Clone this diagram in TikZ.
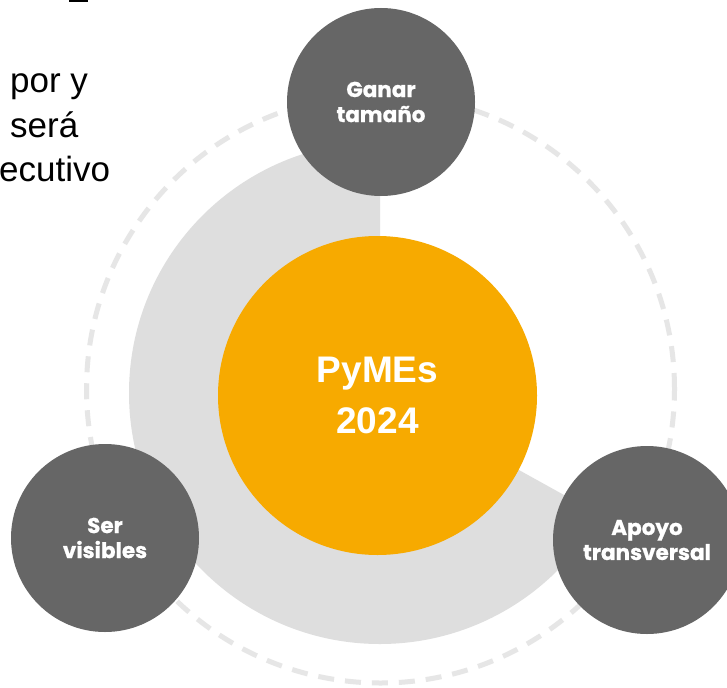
\documentclass[tikz,border=0pt]{standalone}
\usepackage{fontspec}
\setmainfont{Liberation Sans}
\newfontfamily\popfont{Poppins}[BoldFeatures={FakeBold=0.8}]
\definecolor{pyorange}{HTML}{F7AA00}
\definecolor{darkgrey}{HTML}{666666}
\definecolor{sectorgrey}{HTML}{DEDEDE}
\definecolor{dashgrey}{HTML}{E6E6E6}
\tikzset{
  goalcircle/.style={circle, fill=darkgrey, minimum size=188pt, inner sep=0pt, text=white, align=center,
    font=\popfont\bfseries\fontsize{21.5}{25}\selectfont},
  corecircle/.style={circle, fill=pyorange, minimum size=319pt, inner sep=0pt, text=white, align=center,
    font=\bfseries\fontsize{37}{51}\selectfont},
  sidetext/.style={anchor=base west, inner sep=0pt, text=black, font=\fontsize{35}{42}\selectfont},
}
\begin{document}
\begin{tikzpicture}[x=1pt,y=1pt]
\clip (0,0) rectangle (727,-687);
\fill[white] (0,0) rectangle (727,-687);
% cut-off text from the slide on the left
\fill[black] (69,0) rectangle (88,-2);
\node[sidetext] (t1) at (10,-93) {por y};
\node[sidetext] (t2) at (10,-138) {será};
\node[sidetext] (t3) at (-1,-182) {ecutivo};
% dashed orbit
\draw[dashgrey, line width=5pt, dash pattern=on 16pt off 11pt] (380.5,-389) circle[radius=294];
% grey sector
\coordinate (hub) at (380,-393);
\fill[sectorgrey] (hub) -- ++(90:251) arc[start angle=90, end angle=331, radius=251] -- cycle;
% centre
\node[corecircle] (pymes) at (377.5,-395.5) {PyMEs\\2024};
% goals
\node[goalcircle] (ganar) at (381,-102) {Ganar\\tamaño};
\node[goalcircle] (ser) at (105,-538) {Ser\\visibles};
\node[goalcircle] (apoyo) at (647,-540) {Apoyo\\transversal};
\end{tikzpicture}
\end{document}
